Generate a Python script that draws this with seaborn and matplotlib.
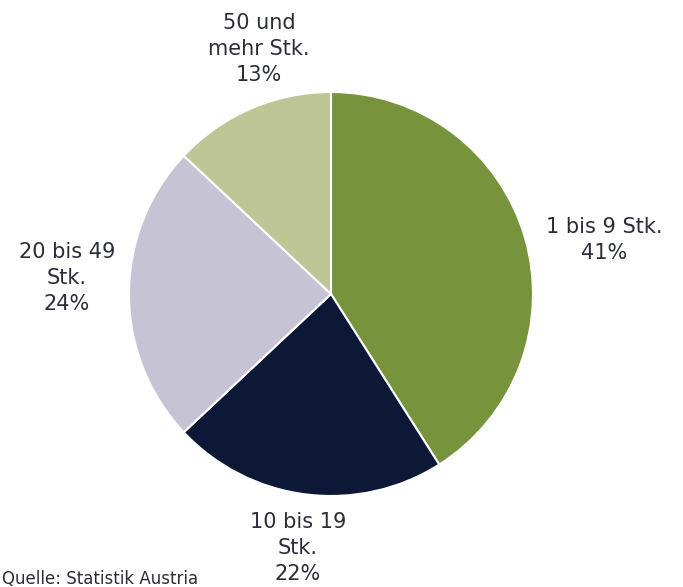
import matplotlib
matplotlib.use("Agg")
import matplotlib.pyplot as plt
import seaborn as sns

# Data
categories = ["1 bis 9 Stk.", "10 bis 19\nStk.", "20 bis 49\nStk.", "50 und\nmehr Stk."]
shares = [41, 22, 24, 13]
colors = ["#77933c", "#0c1836", "#c6c4d4", "#bec696"]
source = "Quelle: Statistik Austria"

# label anchor points in pixel coords (x, y from top)
label_pos = [(604, 240), (298, 548), (67, 278), (259, 49)]

sns.set_theme(style="white")
plt.rcParams["font.family"] = ["DejaVu Sans"]

W, H = 683, 587
fig = plt.figure(figsize=(W / 100, H / 100), dpi=100)
ax = fig.add_axes([0, 0, 1, 1])
ax.set_xlim(0, W)
ax.set_ylim(0, H)
ax.set_aspect("equal")
ax.axis("off")

ax.pie(shares, colors=colors, startangle=90, counterclock=False,
       center=(331, H - 294), radius=202,
       wedgeprops=dict(edgecolor="white", linewidth=1.5))
ax.set_xlim(0, W)
ax.set_ylim(0, H)

for cat, val, (x, y) in zip(categories, shares, label_pos):
    ax.text(x, H - y, f"{cat}\n{val}%", ha="center", va="center",
            fontsize=15, color="#2b2d3a", linespacing=1.38)

ax.text(2, H - 570, source, ha="left", va="top", fontsize=12, color="#2b2d3a")

fig.savefig("out.png", dpi=100)
